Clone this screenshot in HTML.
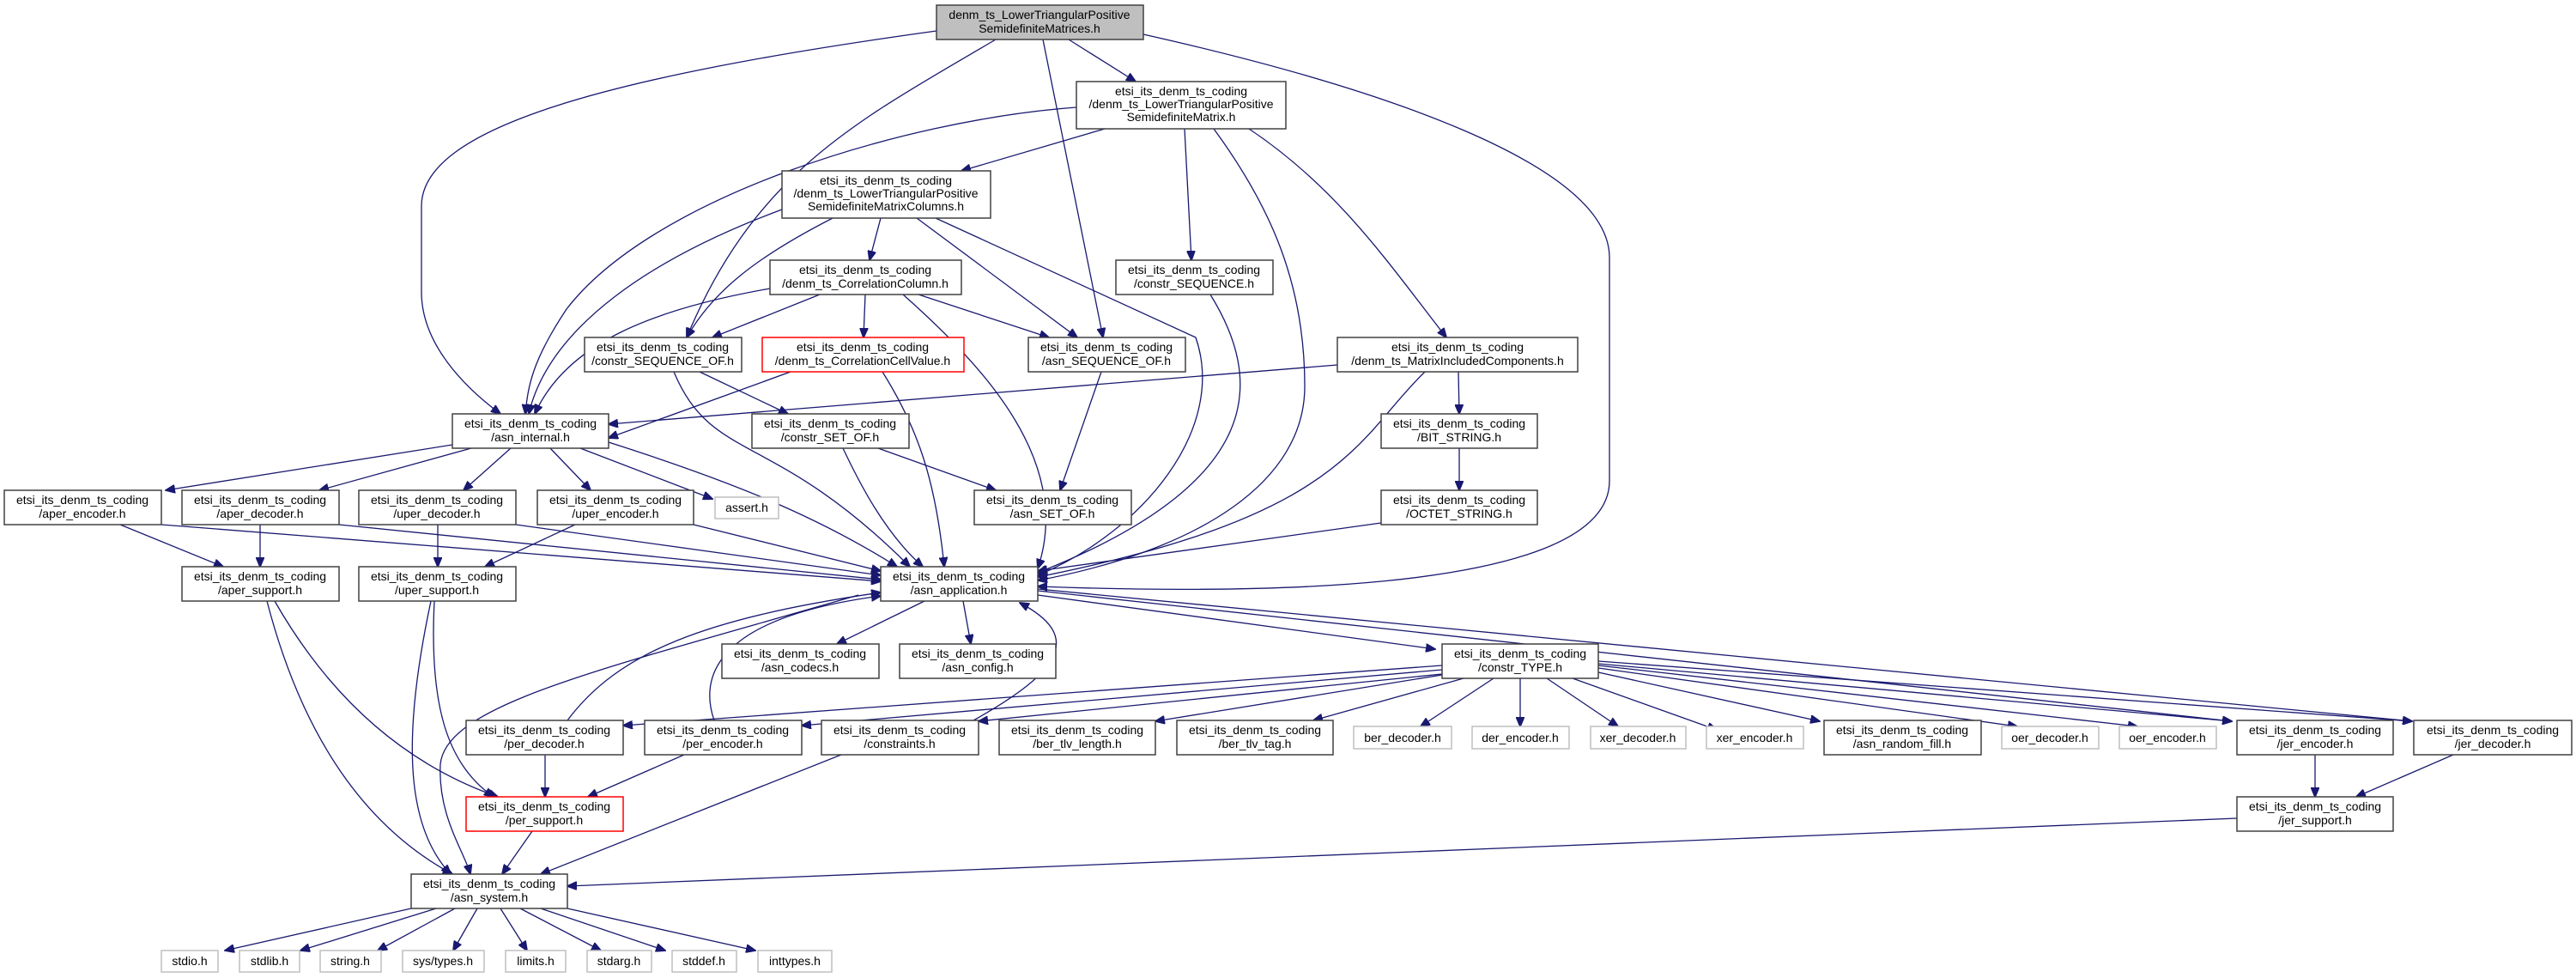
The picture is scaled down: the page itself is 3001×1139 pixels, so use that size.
<!DOCTYPE html>
<html><head><meta charset="utf-8"><style>
html,body{margin:0;padding:0;background:#fff;}
svg{display:block}
text{font-family:"Liberation Sans",sans-serif;font-size:14px;fill:#000;text-anchor:middle}
.n{fill:#fff;stroke:#404040;stroke-width:1.5}
.g{fill:#fff;stroke:#bfbfbf;stroke-width:1.5}
.r{fill:#fff;stroke:#ff0000;stroke-width:1.5}
.t{fill:#bfbfbf;stroke:#404040;stroke-width:1.5}
path{fill:none;stroke:#191970;stroke-width:1.3}
</style></head><body>
<svg width="3001" height="1139" viewBox="0 0 3001 1139" xmlns="http://www.w3.org/2000/svg">
<defs><marker id="a" markerUnits="userSpaceOnUse" markerWidth="12" markerHeight="10" refX="11" refY="5" orient="auto"><path d="M0,0 L12,5 L0,10 Z" style="fill:#191970;stroke:#191970;stroke-width:1"/></marker></defs>
<g marker-end="url(#a)">
<path d="M1091,36 C700,90 491,150 491,240 L491,340 C491,400 540,450 583,482"/>
<path d="M1160,46 C1000,140 880,200 800,393"/>
<path d="M1215,46 L1285,393"/>
<path d="M1245,46 L1323,95"/>
<path d="M1332,40 C1600,100 1875,190 1875,300 L1875,560 C1875,700 1400,690 1209,683"/>
<path d="M1254,125 C1050,140 760,230 660,360 C620,420 615,450 612,482"/>
<path d="M1287,150 L1120,199"/>
<path d="M1380,150 L1388,303"/>
<path d="M1414,150 C1480,240 1520,330 1520,450 C1520,560 1400,640 1209,676"/>
<path d="M1455,150 C1560,220 1620,310 1685,393"/>
<path d="M911,244 C760,300 640,380 616,482"/>
<path d="M970,254 C880,300 830,340 800,393"/>
<path d="M1026,254 L1013,303"/>
<path d="M1068,254 L1255,393"/>
<path d="M1090,254 L1393,393 C1430,500 1330,620 1209,670"/>
<path d="M897,336 C760,360 660,400 623,482"/>
<path d="M955,343 L830,393"/>
<path d="M1008,343 L1006,393"/>
<path d="M1070,343 L1222,393"/>
<path d="M1052,343 C1150,430 1250,540 1209,662"/>
<path d="M785,433 C830,540 900,500 1060,660"/>
<path d="M815,433 L918,482"/>
<path d="M921,433 L709,510"/>
<path d="M1028,433 C1070,500 1090,560 1100,660"/>
<path d="M1283,433 L1235,571"/>
<path d="M1558,425 L709,494"/>
<path d="M1699,433 L1700,482"/>
<path d="M1660,433 C1580,510 1570,600 1209,672"/>
<path d="M1410,343 C1470,440 1480,560 1209,667"/>
<path d="M982,522 C1000,560 1030,620 1075,660"/>
<path d="M1023,522 L1160,571"/>
<path d="M1700,522 L1700,571"/>
<path d="M1609,609 L1209,665"/>
<path d="M527,518 L193,571"/>
<path d="M549,522 L372,571"/>
<path d="M595,522 L540,571"/>
<path d="M641,522 L688,571"/>
<path d="M676,522 L830,581"/>
<path d="M709,515 C850,560 950,600 1045,660"/>
<path d="M140,611 L260,660"/>
<path d="M188,611 L1026,677"/>
<path d="M303,611 L303,660"/>
<path d="M395,611 L1026,675"/>
<path d="M510,611 L510,660"/>
<path d="M601,611 L1026,670"/>
<path d="M670,611 L565,660"/>
<path d="M808,611 L1026,665"/>
<path d="M311,700 C350,850 420,960 527,1018"/>
<path d="M320,700 C400,840 500,900 580,928"/>
<path d="M502,700 C470,850 470,960 525,1018"/>
<path d="M506,700 C500,820 520,890 575,928"/>
<path d="M1077,700 L975,750"/>
<path d="M1122,700 L1131,750"/>
<path d="M1209,693 L1672,756"/>
<path d="M1000,693 C700,780 520,820 513,890 C510,950 540,990 548,1018"/>
<path d="M661,839 C720,760 820,720 1026,690"/>
<path d="M832,839 C815,790 830,720 1026,694"/>
<path d="M1134,839 C1240,780 1260,740 1188,702"/>
<path d="M1680,775 L726,845"/>
<path d="M1680,780 L934,845"/>
<path d="M1680,785 L1140,840"/>
<path d="M1680,786 L1346,840"/>
<path d="M1705,790 L1530,839"/>
<path d="M1740,790 L1655,846"/>
<path d="M1771,790 L1771,846"/>
<path d="M1802,790 L1885,846"/>
<path d="M1832,790 L2000,850"/>
<path d="M1862,783 L2120,840"/>
<path d="M1862,778 L2350,846"/>
<path d="M1862,775 L2490,846"/>
<path d="M1862,773 L2600,840"/>
<path d="M1862,770 L2810,840"/>
<path d="M1209,688 L2600,840"/>
<path d="M1209,686 L2810,840"/>
<path d="M635,879 L635,928"/>
<path d="M797,879 L685,928"/>
<path d="M980,879 L630,1018"/>
<path d="M620,968 L585,1018"/>
<path d="M2697,879 L2697,928"/>
<path d="M2858,879 L2745,928"/>
<path d="M2606,953 L661,1032"/>
<path d="M479,1058 L262,1107"/>
<path d="M508,1058 L350,1107"/>
<path d="M530,1058 L440,1107"/>
<path d="M556,1058 L528,1107"/>
<path d="M583,1058 L614,1107"/>
<path d="M606,1058 L700,1107"/>
<path d="M630,1058 L775,1107"/>
<path d="M661,1058 L880,1107"/>
</g>
<g>
<rect class="t" x="1091" y="6" width="241" height="40"/><text x="1211" y="22">denm_ts_LowerTriangularPositive</text><text x="1211" y="38">SemidefiniteMatrices.h</text>
<rect class="n" x="1254" y="95" width="244" height="55"/><text x="1376" y="111">etsi_its_denm_ts_coding</text><text x="1376" y="126">/denm_ts_LowerTriangularPositive</text><text x="1376" y="141">SemidefiniteMatrix.h</text>
<rect class="n" x="911" y="199" width="243" height="55"/><text x="1032" y="215">etsi_its_denm_ts_coding</text><text x="1032" y="230">/denm_ts_LowerTriangularPositive</text><text x="1032" y="245">SemidefiniteMatrixColumns.h</text>
<rect class="n" x="897" y="303" width="223" height="40"/><text x="1008" y="319">etsi_its_denm_ts_coding</text><text x="1008" y="335">/denm_ts_CorrelationColumn.h</text>
<rect class="n" x="1300" y="303" width="183" height="40"/><text x="1391" y="319">etsi_its_denm_ts_coding</text><text x="1391" y="335">/constr_SEQUENCE.h</text>
<rect class="n" x="681" y="393" width="183" height="40"/><text x="772" y="409">etsi_its_denm_ts_coding</text><text x="772" y="425">/constr_SEQUENCE_OF.h</text>
<rect class="r" x="888" y="393" width="235" height="40"/><text x="1005" y="409">etsi_its_denm_ts_coding</text><text x="1005" y="425">/denm_ts_CorrelationCellValue.h</text>
<rect class="n" x="1198" y="393" width="183" height="40"/><text x="1289" y="409">etsi_its_denm_ts_coding</text><text x="1289" y="425">/asn_SEQUENCE_OF.h</text>
<rect class="n" x="1558" y="393" width="280" height="40"/><text x="1698" y="409">etsi_its_denm_ts_coding</text><text x="1698" y="425">/denm_ts_MatrixIncludedComponents.h</text>
<rect class="n" x="527" y="482" width="182" height="40"/><text x="618" y="498">etsi_its_denm_ts_coding</text><text x="618" y="514">/asn_internal.h</text>
<rect class="n" x="876" y="482" width="183" height="40"/><text x="967" y="498">etsi_its_denm_ts_coding</text><text x="967" y="514">/constr_SET_OF.h</text>
<rect class="n" x="1609" y="482" width="182" height="40"/><text x="1700" y="498">etsi_its_denm_ts_coding</text><text x="1700" y="514">/BIT_STRING.h</text>
<rect class="n" x="5" y="571" width="183" height="40"/><text x="96" y="587">etsi_its_denm_ts_coding</text><text x="96" y="603">/aper_encoder.h</text>
<rect class="n" x="212" y="571" width="183" height="40"/><text x="303" y="587">etsi_its_denm_ts_coding</text><text x="303" y="603">/aper_decoder.h</text>
<rect class="n" x="418" y="571" width="183" height="40"/><text x="509" y="587">etsi_its_denm_ts_coding</text><text x="509" y="603">/uper_decoder.h</text>
<rect class="n" x="626" y="571" width="182" height="40"/><text x="717" y="587">etsi_its_denm_ts_coding</text><text x="717" y="603">/uper_encoder.h</text>
<rect class="g" x="833" y="579" width="74" height="25"/><text x="870" y="596">assert.h</text>
<rect class="n" x="1135" y="571" width="183" height="40"/><text x="1226" y="587">etsi_its_denm_ts_coding</text><text x="1226" y="603">/asn_SET_OF.h</text>
<rect class="n" x="1609" y="571" width="182" height="40"/><text x="1700" y="587">etsi_its_denm_ts_coding</text><text x="1700" y="603">/OCTET_STRING.h</text>
<rect class="n" x="212" y="660" width="183" height="40"/><text x="303" y="676">etsi_its_denm_ts_coding</text><text x="303" y="692">/aper_support.h</text>
<rect class="n" x="418" y="660" width="183" height="40"/><text x="509" y="676">etsi_its_denm_ts_coding</text><text x="509" y="692">/uper_support.h</text>
<rect class="n" x="1026" y="660" width="183" height="40"/><text x="1117" y="676">etsi_its_denm_ts_coding</text><text x="1117" y="692">/asn_application.h</text>
<rect class="n" x="841" y="750" width="183" height="40"/><text x="932" y="766">etsi_its_denm_ts_coding</text><text x="932" y="782">/asn_codecs.h</text>
<rect class="n" x="1048" y="750" width="182" height="40"/><text x="1139" y="766">etsi_its_denm_ts_coding</text><text x="1139" y="782">/asn_config.h</text>
<rect class="n" x="1680" y="750" width="182" height="40"/><text x="1771" y="766">etsi_its_denm_ts_coding</text><text x="1771" y="782">/constr_TYPE.h</text>
<rect class="n" x="543" y="839" width="183" height="40"/><text x="634" y="855">etsi_its_denm_ts_coding</text><text x="634" y="871">/per_decoder.h</text>
<rect class="n" x="751" y="839" width="183" height="40"/><text x="842" y="855">etsi_its_denm_ts_coding</text><text x="842" y="871">/per_encoder.h</text>
<rect class="n" x="957" y="839" width="183" height="40"/><text x="1048" y="855">etsi_its_denm_ts_coding</text><text x="1048" y="871">/constraints.h</text>
<rect class="n" x="1164" y="839" width="182" height="40"/><text x="1255" y="855">etsi_its_denm_ts_coding</text><text x="1255" y="871">/ber_tlv_length.h</text>
<rect class="n" x="1371" y="839" width="182" height="40"/><text x="1462" y="855">etsi_its_denm_ts_coding</text><text x="1462" y="871">/ber_tlv_tag.h</text>
<rect class="g" x="1577" y="846" width="114" height="26"/><text x="1634" y="864">ber_decoder.h</text>
<rect class="g" x="1715" y="846" width="113" height="26"/><text x="1771" y="864">der_encoder.h</text>
<rect class="g" x="1853" y="846" width="111" height="26"/><text x="1908" y="864">xer_decoder.h</text>
<rect class="g" x="1988" y="846" width="113" height="26"/><text x="2044" y="864">xer_encoder.h</text>
<rect class="n" x="2125" y="839" width="183" height="40"/><text x="2216" y="855">etsi_its_denm_ts_coding</text><text x="2216" y="871">/asn_random_fill.h</text>
<rect class="g" x="2332" y="846" width="113" height="26"/><text x="2388" y="864">oer_decoder.h</text>
<rect class="g" x="2469" y="846" width="113" height="26"/><text x="2525" y="864">oer_encoder.h</text>
<rect class="n" x="2606" y="839" width="182" height="40"/><text x="2697" y="855">etsi_its_denm_ts_coding</text><text x="2697" y="871">/jer_encoder.h</text>
<rect class="n" x="2812" y="839" width="184" height="40"/><text x="2904" y="855">etsi_its_denm_ts_coding</text><text x="2904" y="871">/jer_decoder.h</text>
<rect class="r" x="543" y="928" width="183" height="40"/><text x="634" y="944">etsi_its_denm_ts_coding</text><text x="634" y="960">/per_support.h</text>
<rect class="n" x="2606" y="928" width="182" height="40"/><text x="2697" y="944">etsi_its_denm_ts_coding</text><text x="2697" y="960">/jer_support.h</text>
<rect class="n" x="479" y="1018" width="182" height="40"/><text x="570" y="1034">etsi_its_denm_ts_coding</text><text x="570" y="1050">/asn_system.h</text>
<rect class="g" x="188" y="1107" width="66" height="25"/><text x="221" y="1124">stdio.h</text>
<rect class="g" x="279" y="1107" width="70" height="25"/><text x="314" y="1124">stdlib.h</text>
<rect class="g" x="373" y="1107" width="71" height="25"/><text x="408" y="1124">string.h</text>
<rect class="g" x="469" y="1107" width="95" height="25"/><text x="516" y="1124">sys/types.h</text>
<rect class="g" x="589" y="1107" width="70" height="25"/><text x="624" y="1124">limits.h</text>
<rect class="g" x="684" y="1107" width="75" height="25"/><text x="721" y="1124">stdarg.h</text>
<rect class="g" x="783" y="1107" width="75" height="25"/><text x="820" y="1124">stddef.h</text>
<rect class="g" x="883" y="1107" width="86" height="25"/><text x="926" y="1124">inttypes.h</text>
</g>
</svg>
</body></html>
